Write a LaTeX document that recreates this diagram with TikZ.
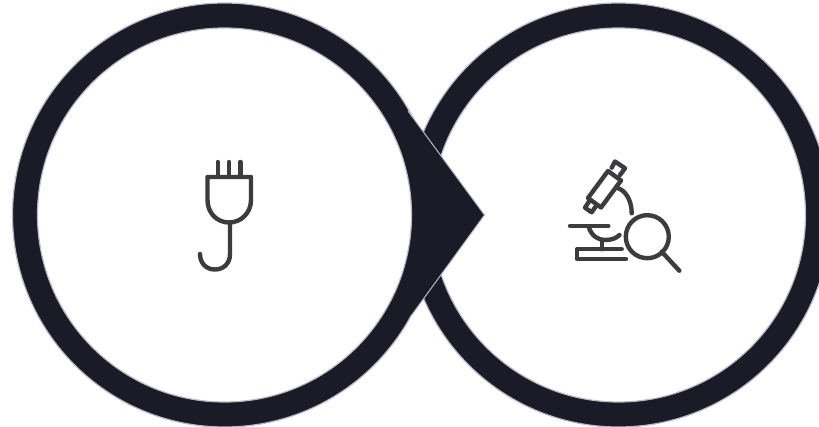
\documentclass[tikz,border=0pt]{standalone}
\usetikzlibrary{calc}
\definecolor{ringink}{HTML}{1B1B27}
\definecolor{ringedge}{HTML}{B9B9C6}
\definecolor{iconink}{HTML}{3C3C3E}
\tikzset{
    ringouter/.style={fill=ringink, draw=ringedge, line width=1.2pt},
    ringinner/.style={fill=white, draw=ringedge, line width=1.2pt},
    iconline/.style={draw=iconink, line width=4.4pt, line cap=round, line join=round},
}

\begin{document}
\begin{tikzpicture}[x=1pt, y=-1pt]

    % ---- Parameters ----
    \def\Lx{224.5}    % left ring centre x
    \def\Rx{618.5}    % right ring centre x
    \def\Cy{215}      % ring centre y
    \def\rOuter{212}  % outer radius
    \def\rInner{187}  % inner radius

    \clip (0,0) rectangle (819,427);
    \fill[white] (0,0) rectangle (819,427);

    % ---- Right ring ----
    \draw[ringouter] (\Rx,\Cy) circle (\rOuter);
    \draw[ringinner] (\Rx,\Cy) circle (\rInner);

    % ---- Left ring ----
    \draw[ringouter] (\Lx,\Cy) circle (\rOuter);

    % ---- Arrow head between the rings ----
    \fill[ringink] (408,111) -- (484.5,215) -- (411,316) -- (400,215) -- cycle;
    \draw[ringedge, line width=1pt] (408,111) -- (484.5,215) -- (411,316);

    % ---- Left ring inside, over the arrow head ----
    \draw[ringinner] (\Lx,\Cy) circle (\rInner);

    % ---- Plug ----
    \draw[iconline] (217.7,162) -- (217.7,177);
    \draw[iconline] (229,162) -- (229,177);
    \draw[iconline] (240.3,162) -- (240.3,177);
    \draw[iconline] (207.5,177) -- (251,177) -- (251,200)
        .. controls (251,213) and (241,222.5) .. (229,222.5)
        .. controls (217,222.5) and (207.5,213) .. (207.5,200) -- cycle;
    \draw[iconline] (230,222.5) -- (230,254)
        .. controls (230,264) and (223,269.5) .. (215,269.5)
        .. controls (206,269.5) and (200,263) .. (200,254);

    % ---- Microscope tube ----
    \draw[iconline] (608,171) -- (621,180.5) -- (601,207.5) -- (588,198) -- cycle;
    \draw[iconline] (611.7,167.7) -- (615,161.5) -- (625,168.3) -- (620,175);
    \draw[iconline] (590,200) -- (585,207.7) -- (591.7,212.3) -- (596.7,205);

    % ---- Microscope arm, stage and base ----
    \draw[iconline] (618.3,188.3) .. controls (626,191) and (631.7,201) .. (631.7,213.3);
    \draw[iconline] (570,226) -- (608.3,226);
    \draw[iconline] (589,228) .. controls (592,236) and (598,240) .. (605,240)
        .. controls (611,240) and (616,238.5) .. (619.5,235);
    \draw[iconline] (601.7,240) -- (601.7,249.3);
    \draw[iconline] (621.7,249.3) -- (576.7,249.3) -- (576.7,259) -- (626,259);

    % ---- Magnifying glass ----
    \draw[iconline] (647.3,236.7) circle (21.5);
    \draw[iconline] (661.7,251.7) -- (679.3,270.7);

\end{tikzpicture}
\end{document}
